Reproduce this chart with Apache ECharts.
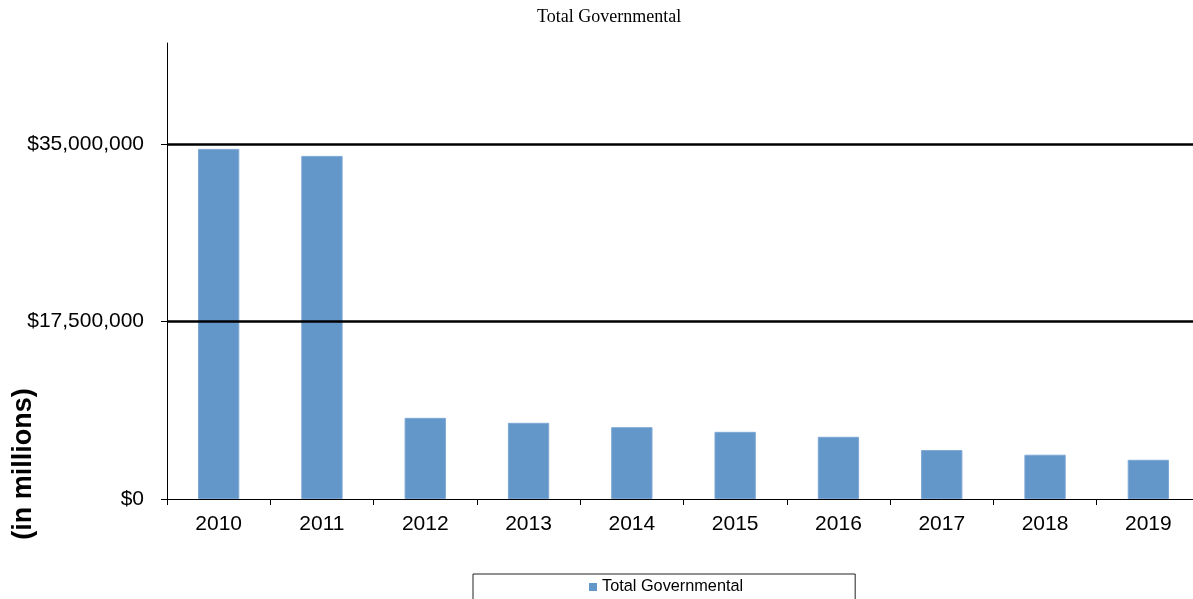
<!DOCTYPE html>
<html>
<head>
<meta charset="utf-8">
<title>Total Governmental</title>
<script src="https://cdn.jsdelivr.net/npm/echarts@6/dist/echarts.min.js"></script>
<style>
  html, body { margin: 0; padding: 0; background: #fff; overflow: hidden; }
  /* the plot area runs a few pixels past the visible right edge */
  #chart { width: 1200px; height: 599px; }
</style>
</head>
<body>
<div id="chart"></div>
<script>
// Fiscal years on the category axis
const years = ['2010', '2011', '2012', '2013', '2014', '2015', '2016', '2017', '2018', '2019'];
// Total governmental amounts per year (dollars)
const totalGovernmental = [34550000, 33860000, 8010000, 7520000, 7090000, 6630000, 6140000, 4830000, 4370000, 3870000];
// Value-axis tick positions and the horizontal reference lines
const yTicks = [0, 17500000, 35000000];
const gridLines = [17500000, 35000000];
const yMax = 45000000;

const FONT = '"Liberation Sans", Arial, sans-serif';

function money(v) {
  return '$' + Math.round(v).toString().replace(/\B(?=(\d{3})+(?!\d))/g, ',');
}

const chart = echarts.init(document.getElementById('chart'), null, { renderer: 'canvas' });

chart.setOption({
  animation: false,
  backgroundColor: '#ffffff',
  title: {
    text: 'Total Governmental',
    left: 537,
    top: 8,
    padding: 0,
    textStyle: {
      fontFamily: '"Liberation Serif", "Times New Roman", serif',
      fontSize: 18,
      fontWeight: 'normal',
      color: '#000'
    }
  },
  graphic: [{
    type: 'text',
    x: 24,
    y: 464,
    rotation: Math.PI / 2,
    style: {
      text: '(in millions)',
      font: 'bold 27px ' + FONT,
      fill: '#000',
      align: 'center',
      verticalAlign: 'middle'
    }
  }],
  legend: {
    data: ['Total Governmental'],
    left: 473,
    top: 574,
    padding: [5, 112, 12, 116],
    borderColor: '#222',
    borderWidth: 1,
    itemWidth: 8,
    itemHeight: 8,
    icon: 'rect',
    itemStyle: { borderWidth: 0 },
    textStyle: { fontFamily: FONT, fontSize: 16.3, color: '#000' }
  },
  grid: { left: 167, right: 0, top: 43, bottom: 100, containLabel: false },
  xAxis: {
    type: 'category',
    data: years,
    axisLine: { lineStyle: { color: '#000', width: 1 } },
    axisTick: { show: true, length: 6, lineStyle: { color: '#000' } },
    axisLabel: { fontFamily: FONT, fontSize: 21, color: '#000', margin: 15 },
    splitLine: { show: false }
  },
  yAxis: {
    type: 'value',
    min: 0,
    max: yMax,
    interval: 17500000,
    axisLine: { show: true, lineStyle: { color: '#000', width: 1 } },
    axisTick: { show: true, length: 6, customValues: yTicks, lineStyle: { color: '#000' } },
    axisLabel: {
      customValues: yTicks,
      fontFamily: FONT, fontSize: 21, color: '#000', margin: 23,
      formatter: money
    },
    splitLine: { show: false }
  },
  series: [{
    name: 'Total Governmental',
    type: 'bar',
    data: totalGovernmental,
    barCategoryGap: '60%',
    itemStyle: { color: '#6396C9', borderColor: '#7EA8D6', borderWidth: 1 },
    markLine: {
      silent: true,
      symbol: 'none',
      label: { show: false },
      lineStyle: { color: '#000', width: 2.5, type: 'solid' },
      data: gridLines.map(v => ({ yAxis: v }))
    }
  }]
});
</script>
</body>
</html>
